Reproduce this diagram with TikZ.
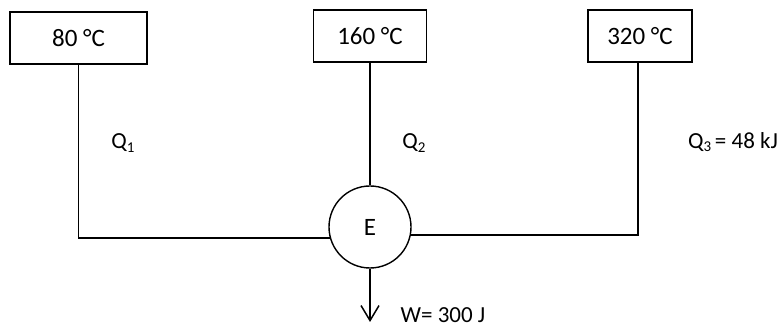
\documentclass[tikz,border=0pt]{standalone}
\usepackage{fontspec}
\setmainfont{Carlito}
\usetikzlibrary{arrows.meta}
\newcommand{\lowsub}[1]{\raisebox{-0.3ex}{\fontsize{15}{15}\selectfont #1}}
\begin{document}
\begin{tikzpicture}[x=1pt,y=1pt,
  every node/.style={font=\fontsize{25}{30}\selectfont},
  reservoir/.style={draw,line width=1.6pt,rectangle,minimum height=52pt,inner sep=0pt},
  engine/.style={draw,line width=1.4pt,circle,minimum size=82pt,inner sep=0pt},
  link/.style={line width=1.6pt},
  lbl/.style={inner sep=0pt,font=\fontsize{23}{27}\selectfont}]
\useasboundingbox (0,0) rectangle (778,331);
\node[reservoir,minimum width=137pt] (b1) at (78.5,293) {80 °C};
\node[reservoir,minimum width=113pt] (b2) at (370,295) {160 °C};
\node[reservoir,minimum width=104pt] (b3) at (640,295) {320 °C};
\node[engine] (E) at (370,104) {E};
\draw[link] (b1.south) |- (E.195);
\draw[link] ([xshift=-2pt]b3.south) |- (E.-11);
\draw[link] (b2.south) -- (E.north);
\coordinate (wend) at (370,9);
\draw[link,-{Straight Barb[length=15pt,width=18pt,line width=1.5pt]}] (E.south) -- (wend);
\node[lbl] (q1) at (123,188) {Q\lowsub{1}};
\node[lbl] (q2) at (414,188) {Q\lowsub{2}};
\node[lbl] (q3) at (733,189) {Q\lowsub{3}\,= 48 kJ};
\node[lbl] (w) at (443,16) {W= 300 J};
\end{tikzpicture}
\end{document}
